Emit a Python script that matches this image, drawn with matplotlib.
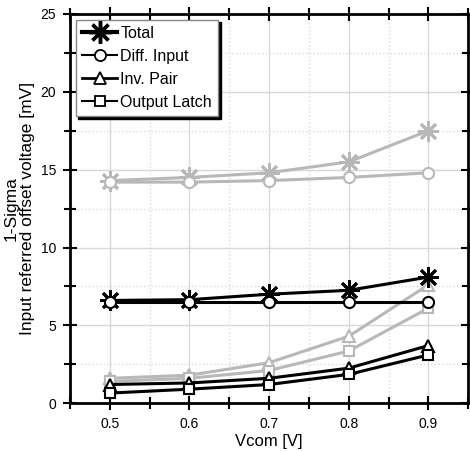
import numpy as np
import matplotlib.pyplot as plt
from matplotlib.ticker import MultipleLocator

plt.rcParams['font.family'] = ['Liberation Sans', 'DejaVu Sans']

vcom = [0.5, 0.6, 0.7, 0.8, 0.9]

# grey curves
total_g = [14.3, 14.5, 14.8, 15.5, 17.5]
diff_g = [14.2, 14.2, 14.3, 14.5, 14.8]
inv_g = [1.6, 1.8, 2.6, 4.3, 7.6]
latch_g = [1.4, 1.6, 2.1, 3.35, 6.1]

# black curves
total_k = [6.6, 6.65, 7.0, 7.25, 8.1]
diff_k = [6.5, 6.5, 6.5, 6.5, 6.5]
inv_k = [1.2, 1.3, 1.6, 2.25, 3.7]
latch_k = [0.65, 0.9, 1.2, 1.85, 3.1]

labels = ['Total', 'Diff. Input', 'Inv. Pair', 'Output Latch']

fig = plt.figure(figsize=(4.7, 4.51), dpi=100)
ax = fig.add_axes([0.149, 0.106, 0.847, 0.863])

gray = '#b8b8b8'
ast = (8, 2, 0)
styles = [(ast, 15), ('o', 8), ('^', 8), ('s', 7)]

for data, col in [((total_g, diff_g, inv_g, latch_g), gray),
                  ((total_k, diff_k, inv_k, latch_k), 'black')]:
    for y, (m, ms) in zip(data, styles):
        ax.plot(vcom, y, color=col, lw=2.2, marker=m, ms=ms,
                mfc='white' if m != ast else col, mec=col, mew=2 if m == ast else 1.5)

handles = []
for lab, (m, ms), lw in zip(labels, styles, [3, 1.5, 2, 1.5]):
    h, = ax.plot([], [], color='black', lw=lw, marker=m, ms=ms if m != ast else 16,
                 mfc='white', mec='black', mew=2.5 if m == ast else 1.3)
    handles.append(h)
leg = ax.legend(handles, labels, loc='upper left', fontsize=11.5, frameon=True,
                fancybox=False, shadow={'color': 'black', 'alpha': 1},
                handlelength=2.2, handletextpad=0.2, labelspacing=0.5,
                borderpad=0.4, borderaxespad=0.35)
leg.get_frame().set_edgecolor('#888888')
leg.get_frame().set_linewidth(1)

ax.set_xlim(0.45, 0.95)
ax.set_ylim(0, 25)
ax.set_xticks(vcom)
ax.xaxis.set_minor_locator(MultipleLocator(0.05))
ax.yaxis.set_major_locator(MultipleLocator(5))
ax.yaxis.set_minor_locator(MultipleLocator(2.5))
ax.grid(True, which='major', color='#d8d8d8', lw=1)
ax.grid(True, which='minor', color='#d8d8d8', lw=1, ls=':')
ax.set_axisbelow(True)

ax.tick_params(which='major', direction='inout', length=10, width=1.5,
               top=True, right=True, labelsize=10, pad=5)
ax.tick_params(which='minor', direction='inout', length=8, width=1.5,
               top=True, right=True)
for s in ax.spines.values():
    s.set_linewidth(2)

ax.set_xlabel('Vcom [V]', fontsize=12, labelpad=2)
ax.set_ylabel('1-Sigma\nInput referred offset voltage [mV]', fontsize=12.5,
              linespacing=1.1)
ax.yaxis.set_label_coords(-0.088, 0.5)

fig.savefig('out.png', dpi=100)
